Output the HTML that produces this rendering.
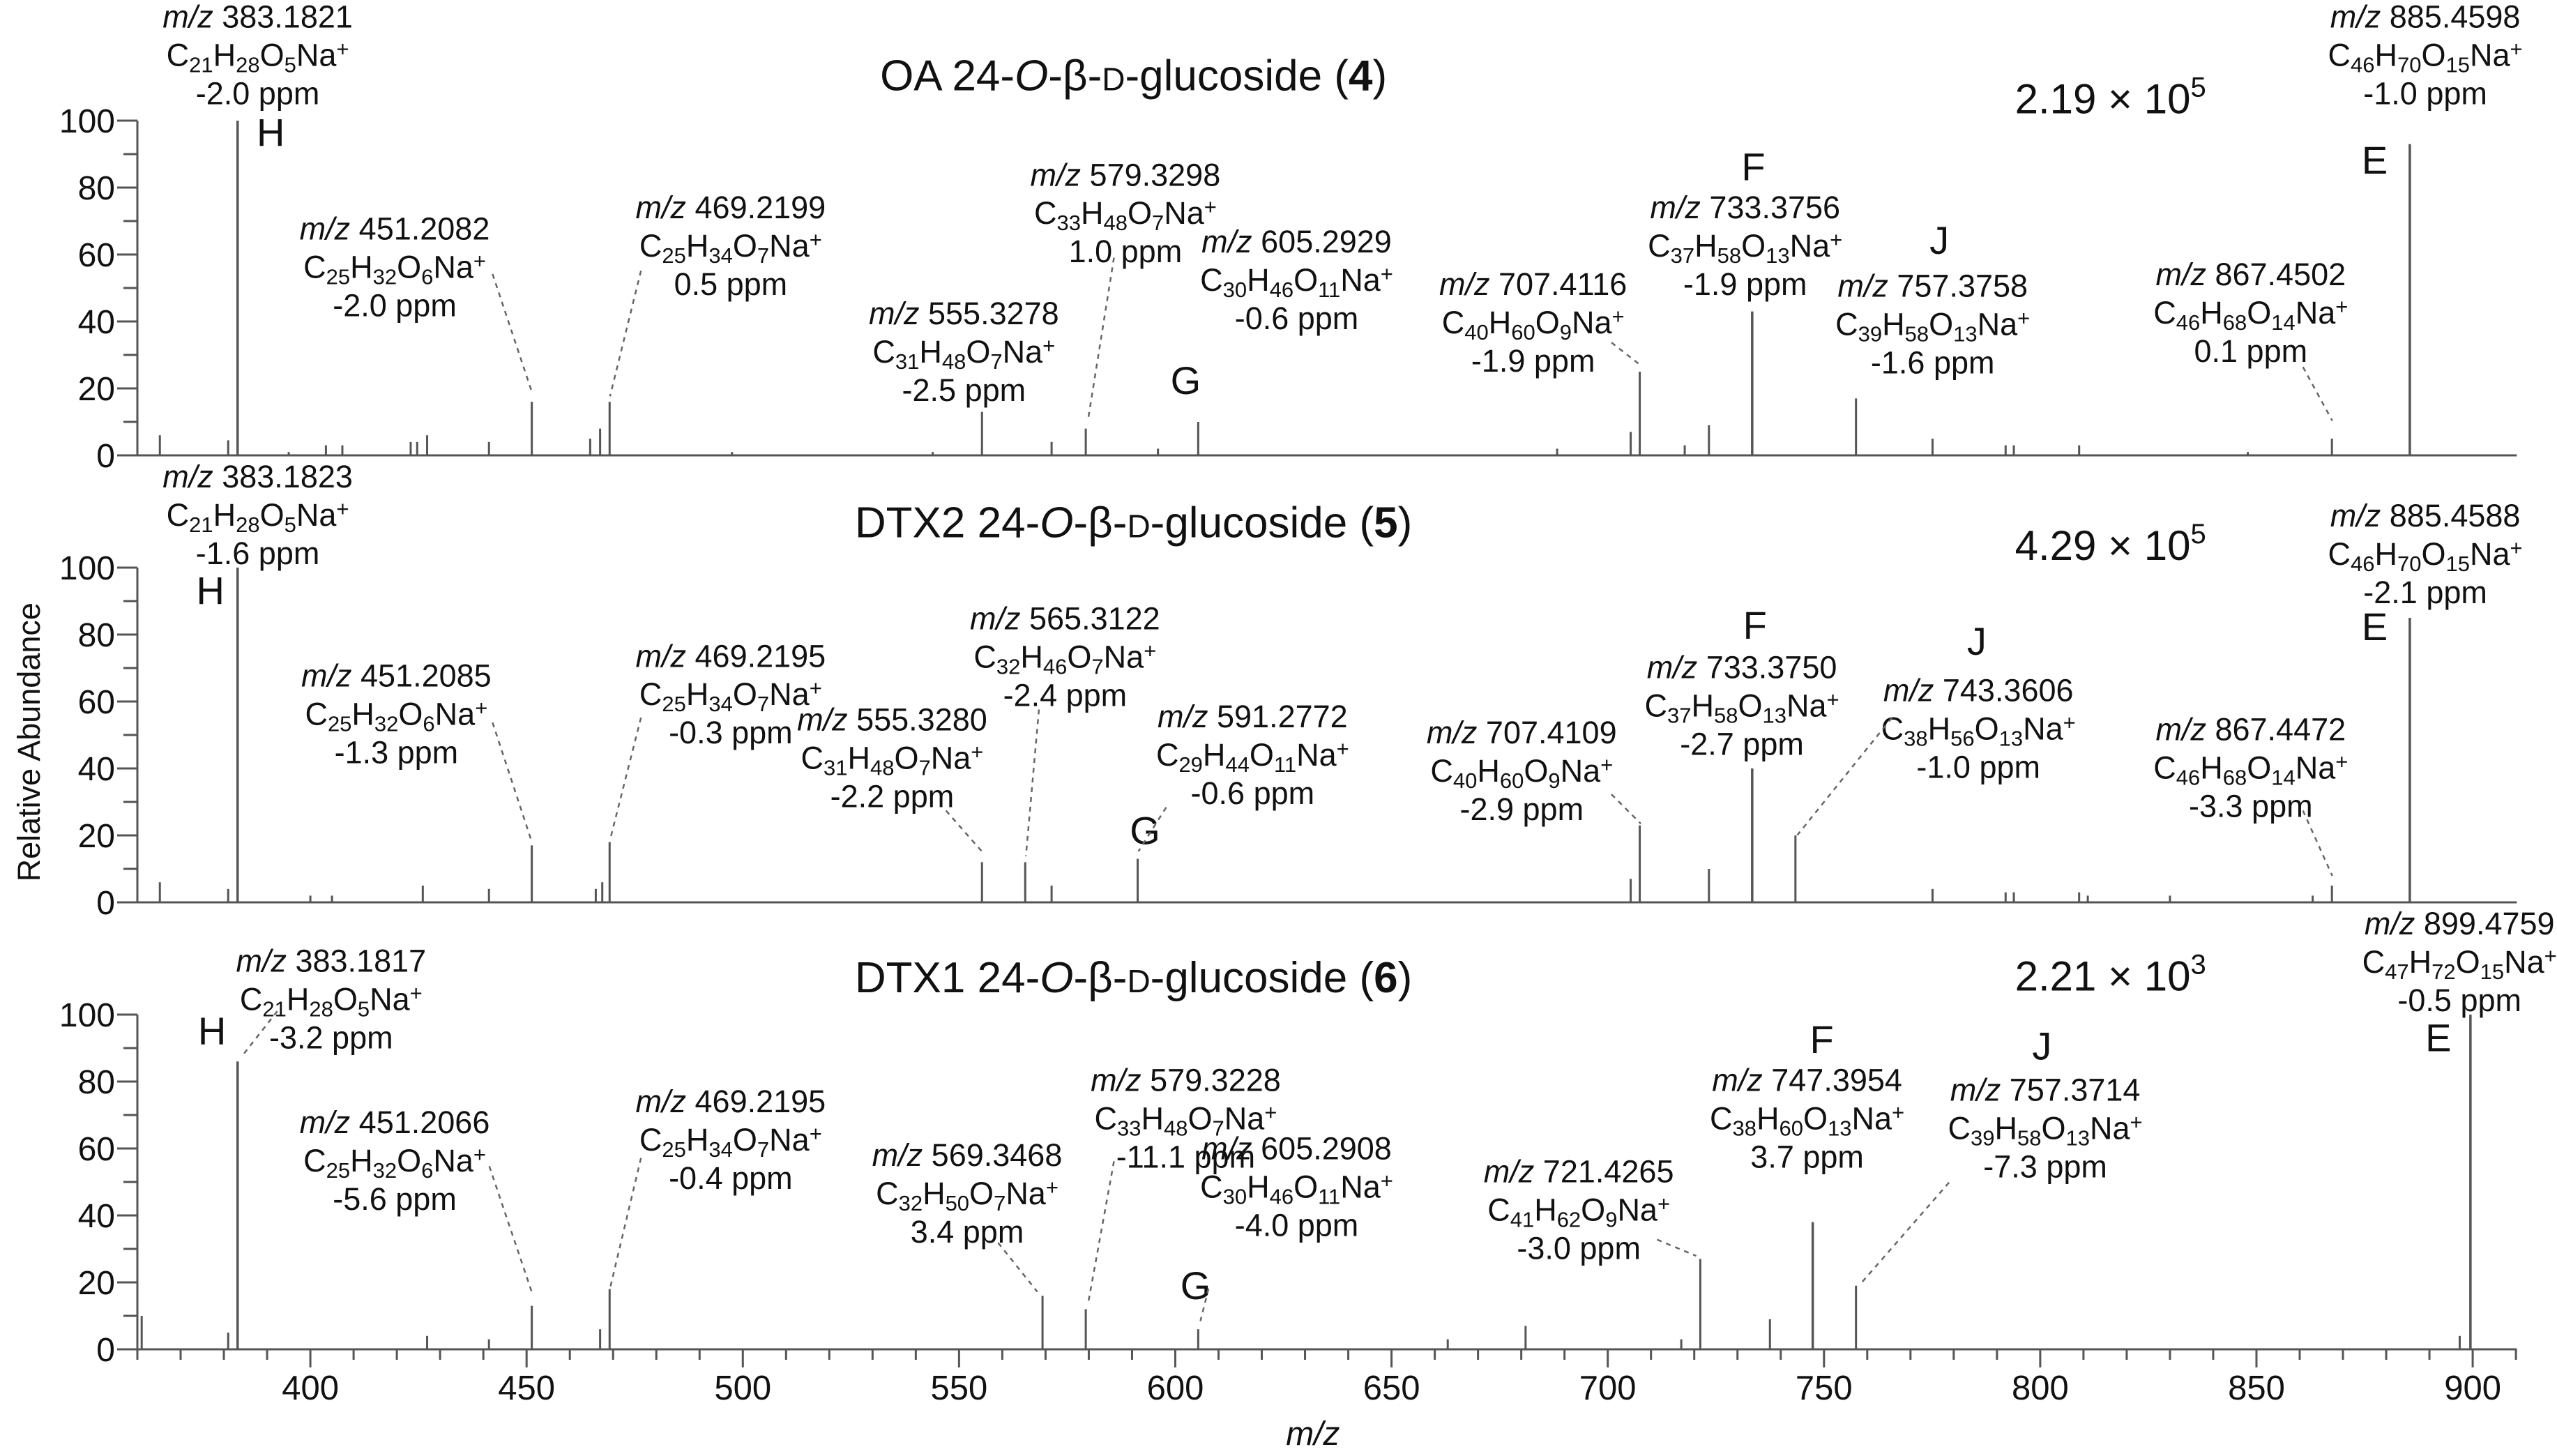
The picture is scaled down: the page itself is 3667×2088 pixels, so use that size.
<!DOCTYPE html>
<html><head><meta charset="utf-8"><style>
html,body{margin:0;padding:0;background:#fff;}
svg{display:block;font-family:"Liberation Sans",sans-serif;}
</style></head><body>
<svg id="chart" width="3667" height="2088" viewBox="0 0 3667 2088" xmlns="http://www.w3.org/2000/svg">
<rect width="3667" height="2088" fill="#fff"/>
<g id="axes"></g><g id="marks"></g><g id="labels"></g>
</svg>
<script>
// ---- data ----
const xTicks = [400,450,500,550,600,650,700,750,800,850,900];
const yTicks = [0,20,40,60,80,100];
const panelTitles = ["OA 24-", "DTX2 24-", "DTX1 24-"];
const panelNums = ["4","5","6"];
const panelScales = ["2.19 × 10", "4.29 × 10", "2.21 × 10"];
const panelExp = ["5","5","3"];
const mz1 = [365.2,381,383.18,395,403.6,407.4,423.2,424.7,427,441.3,451.2,464.7,467,469.2,497.5,543.9,555.3,571.4,579.3,596,605.3,688.3,705.3,707.4,717.8,723.4,733.4,757.4,775.1,792,793.9,809,848,867.45,885.46];
const ab1 = [6,4.5,100,1,3,3,4,4,6,4,16,5,8,16,1,1,13,4,8,2,10,2,7,25,3,9,43,17,5,3,3,3,1,5,93];
const mz2 = [365.2,381,383.18,400,405,426,441.3,451.2,466,467.5,469.2,555.3,565.3,571.4,591.3,705.3,707.4,723.4,733.4,743.4,775.1,792,793.9,809,811,830,863,867.45,885.46];
const ab2 = [6,4,100,2,2,5,4,17,4,6,18,12,12,5,13,7,23,10,40,20,4,3,3,3,2,2,2,5,85];
const mz3 = [361,381,383.18,427,441.3,451.2,467,469.2,569.3,579.3,605.3,663,681,717,721.4,737.5,747.4,757.4,897,899.48];
const ab3 = [10,5,86,4,3,13,6,18,16,12,6,3,7,3,27,9,38,19,4,100];
const peakSets = [[mz1,ab1],[mz2,ab2],[mz3,ab3]];

// ---- scales ----
const X0=197, XMIN=360, XMAX=910.2, KX=6.202;
const zeros=[653,1294,1935], KY=4.8;
const S=2.339;
function xs(m){return X0+(m-XMIN)*KX;}
function ys(v,p){return zeros[p]-v*KY;}

const NS="http://www.w3.org/2000/svg";
function mk(tag,attrs,parent){const e=document.createElementNS(NS,tag);for(const k in attrs)e.setAttribute(k,attrs[k]);parent.appendChild(e);return e;}
const axes=document.getElementById('axes'), marks=document.getElementById('marks'), labels=document.getElementById('labels');
const LC="#555";

for(let p=0;p<3;p++){
  const z=zeros[p];
  const ya=mk('line',{x1:X0,y1:ys(100,p),x2:X0,y2:z,stroke:LC,'stroke-width':3},axes);
  
  
  const xa=mk('line',{x1:X0-29,y1:z,x2:xs(XMAX),y2:z,stroke:LC,'stroke-width':3},axes);
  
  
  for(let v=10;v<=100;v+=10){
    const major=v%20===0;
    const t=mk('line',{x1:X0-(major?29:20),y1:ys(v,p),x2:X0,y2:ys(v,p),stroke:LC,'stroke-width':3},axes);
    
    
  }
  yTicks.forEach(v=>{
    const t=mk('text',{x:X0-32,y:ys(v,p)+17,'text-anchor':'end','font-size':48,fill:'#111'},axes);
    t.textContent=v;
    
    
  });
  const [mzs,abs]=peakSets[p];
  mzs.forEach((m,i)=>{
    const l=mk('line',{x1:xs(m),y1:z,x2:xs(m),y2:ys(abs[i],p),stroke:LC,'stroke-width':abs[i]>30?3.5:3},marks);
    
    
  });
}
// x ticks on bottom panel
for(let m=360;m<=910;m+=10){
  const major=m%50===0;
  const t=mk('line',{x1:xs(m),y1:zeros[2],x2:xs(m),y2:zeros[2]+(major?26:15),stroke:LC,'stroke-width':3},axes);
  
  
}
xTicks.forEach(m=>{
  const t=mk('text',{x:xs(m),y:2007,'text-anchor':'middle','font-size':49,fill:'#111'},axes);
  t.textContent=m;
  
  
});
const xt=mk('text',{x:805*S,y:2072,'text-anchor':'middle','font-size':48,'font-style':'italic',fill:'#111'},axes);
xt.textContent='m/z';


const yt=mk('text',{x:0,y:0,'text-anchor':'middle','font-size':45,fill:'#111',transform:`translate(${18*S+15},${455*S}) rotate(-90)`},axes);
yt.textContent='Relative Abundance';



// titles
for(let p=0;p<3;p++){
  const ty=[46,320,599][p]*S+22;
  const t=mk('text',{x:695*S,y:ty,'text-anchor':'middle','font-size':62,fill:'#111'},labels);
  
  
  const parts=[[panelTitles[p],{}],['O',{'font-style':'italic'}],['-β-',{}],['D',{'font-size':46}],['-glucoside (',{}],[panelNums[p],{'font-weight':'bold'}],[')',{}]];
  parts.forEach(([s,a])=>{const sp=mk('tspan',a,t);sp.textContent=s;});
  const sy=[60,334,598][p]*S+22;
  const sc=mk('text',{x:1294*S,y:sy,'text-anchor':'middle','font-size':60,fill:'#111'},labels);
  
  
  const a=mk('tspan',{},sc);a.textContent=panelScales[p];
  const b=mk('tspan',{dy:-24,'font-size':40},sc);b.textContent=panelExp[p];
}

// annotations: [panel, cx, y(display), mz, formula, ppm]
const ann=[
[0,158,10,'383.1821','C_21H_28O_5Na^+','-2.0 ppm'],
[0,242,140,'451.2082','C_25H_32O_6Na^+','-2.0 ppm'],
[0,448,127,'469.2199','C_25H_34O_7Na^+','0.5 ppm'],
[0,591,192,'555.3278','C_31H_48O_7Na^+','-2.5 ppm'],
[0,690,107,'579.3298','C_33H_48O_7Na^+','1.0 ppm'],
[0,795,148,'605.2929','C_30H_46O_11Na^+','-0.6 ppm'],
[0,940,174,'707.4116','C_40H_60O_9Na^+','-1.9 ppm'],
[0,1070,127,'733.3756','C_37H_58O_13Na^+','-1.9 ppm'],
[0,1185,175,'757.3758','C_39H_58O_13Na^+','-1.6 ppm'],
[0,1380,168,'867.4502','C_46H_68O_14Na^+','0.1 ppm'],
[0,1487,10,'885.4598','C_46H_70O_15Na^+','-1.0 ppm'],
[1,158,292,'383.1823','C_21H_28O_5Na^+','-1.6 ppm'],
[1,243,414,'451.2085','C_25H_32O_6Na^+','-1.3 ppm'],
[1,448,402,'469.2195','C_25H_34O_7Na^+','-0.3 ppm'],
[1,547,441,'555.3280','C_31H_48O_7Na^+','-2.2 ppm'],
[1,653,379,'565.3122','C_32H_46O_7Na^+','-2.4 ppm'],
[1,768,439,'591.2772','C_29H_44O_11Na^+','-0.6 ppm'],
[1,933,449,'707.4109','C_40H_60O_9Na^+','-2.9 ppm'],
[1,1068,409,'733.3750','C_37H_58O_13Na^+','-2.7 ppm'],
[1,1213,423,'743.3606','C_38H_56O_13Na^+','-1.0 ppm'],
[1,1380,447,'867.4472','C_46H_68O_14Na^+','-3.3 ppm'],
[1,1487,316,'885.4588','C_46H_70O_15Na^+','-2.1 ppm'],
[2,203,589,'383.1817','C_21H_28O_5Na^+','-3.2 ppm'],
[2,242,688,'451.2066','C_25H_32O_6Na^+','-5.6 ppm'],
[2,448,675,'469.2195','C_25H_34O_7Na^+','-0.4 ppm'],
[2,593,708,'569.3468','C_32H_50O_7Na^+','3.4 ppm'],
[2,727,662,'579.3228','C_33H_48O_7Na^+','-11.1 ppm'],
[2,795,704,'605.2908','C_30H_46O_11Na^+','-4.0 ppm'],
[2,968,718,'721.4265','C_41H_62O_9Na^+','-3.0 ppm'],
[2,1108,662,'747.3954','C_38H_60O_13Na^+','3.7 ppm'],
[2,1254,668,'757.3714','C_39H_58O_13Na^+','-7.3 ppm'],
[2,1508,566,'899.4759','C_47H_72O_15Na^+','-0.5 ppm']
];
const FS=45, LH=23.5*S;
ann.forEach(a=>{
  const cx=a[1]*S, y0=a[2]*S+16;
  const g=mk('g',{},labels);
  
  
  const t1=mk('text',{x:cx,y:y0,'text-anchor':'middle','font-size':FS,fill:'#111'},g);
  const i1=mk('tspan',{'font-style':'italic'},t1);i1.textContent='m/z';
  const i2=mk('tspan',{},t1);i2.textContent=' '+a[3];
  const t2=mk('text',{x:cx,y:y0+LH,'text-anchor':'middle','font-size':FS,fill:'#111'},g);
  const re=/([A-Za-z]+)(?:_(\d+))?(?:\^(\+))?/g;let m;
  while((m=re.exec(a[4]))){
    const s=mk('tspan',{},t2);s.textContent=m[1];
    if(m[2]){const sb=mk('tspan',{'font-size':31,dy:9},t2);sb.textContent=m[2];const r=mk('tspan',{dy:-9,'font-size':1},t2);r.textContent='\u200b';}
    if(m[3]){const sp=mk('tspan',{'font-size':31,dy:-14},t2);sp.textContent='+';}
  }
  const t3=mk('text',{x:cx,y:y0+2*LH,'text-anchor':'middle','font-size':FS,fill:'#111'},g);
  t3.textContent=a[5];
});
// fragment letters: [letter, x, y] display coords
const letters=[['H',166,81],['G',727,233],['F',1075,102],['J',1189,147],['E',1456,98],
['H',129,362],['G',702,509],['F',1076,383],['J',1212,393],['E',1456,384],
['H',130,632],['G',733,788],['F',1117,637],['J',1252,641],['E',1495,636]];
letters.forEach(l=>{
  const t=mk('text',{x:l[1]*S,y:l[2]*S+20,'text-anchor':'middle','font-size':56,fill:'#111'},labels);
  t.textContent=l[0];
  
  
});
// leaders (display coords)
const leaders=[[302,168,326,240],[393,166,374,243],[683,158,667,258],[988,210,1006,224],[1412,225,1430,258],
[302,443,326,516],[393,440,374,515],[580,497,602,522],[637,435,629,525],[715,495,698,522],[988,487,1006,505],[1160,440,1102,512],[1412,497,1430,537],
[170,620,148,648],[300,715,326,792],[393,710,374,790],[612,762,636,792],[683,712,667,800],[741,790,736,810],[1016,760,1040,770],[1195,725,1140,788]];
leaders.forEach(d=>{
  const l=mk('line',{x1:d[0]*S,y1:d[1]*S,x2:d[2]*S,y2:d[3]*S,stroke:'#666','stroke-width':2.5,'stroke-dasharray':'7,7'},labels);
  
  
});
</script>
</body></html>
